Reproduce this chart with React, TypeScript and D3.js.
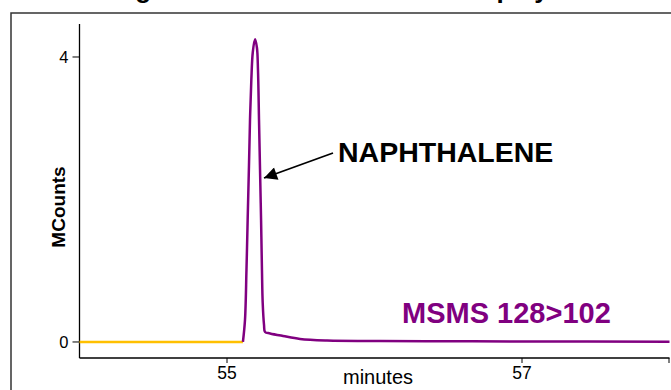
import React from "react";
import * as d3 from "d3";

const W = 671;
const H = 390;

// Pre-elution baseline (yellow)
const baselineTimes = [54.0, 55.108];
const baselineValues = [0, 0];

// MSMS 128>102 trace (purple), minutes vs MCounts
const traceTimes = [
  55.108, 55.122, 55.132, 55.14, 55.149, 55.156, 55.165, 55.175, 55.19,
  55.203, 55.21, 55.217, 55.224, 55.231, 55.237, 55.242, 55.251, 55.258,
  55.292, 55.38, 55.495, 55.678, 56.037, 56.512, 56.986, 58.0,
];
const traceValues = [
  0, 0.31, 1.01, 1.71, 2.48, 3.12, 3.68, 4.07, 4.25,
  4.13, 3.82, 3.12, 2.41, 1.71, 1.01, 0.55, 0.24, 0.14,
  0.12, 0.084, 0.042, 0.021, 0.014, 0.01, 0.007, 0.004,
];

const xTicks = [55, 57];
const yTicks = [0, 4];
const xDomain = [54, 58];
const yDomain = [-0.225, 4.463];

const titleText = "Organic Trace Scan Results Display";
const peakLabel = "NAPHTHALENE";
const traceLabel = "MSMS 128>102";
const xLabel = "minutes";
const yLabel = "MCounts";

const PURPLE = "#800080";
const YELLOW = "#FFC000";
const FONT = "'Liberation Sans', Arial, Helvetica, sans-serif";

export default function App() {
  const x = d3.scaleLinear().domain(xDomain).range([79.5, 669.5]);
  const y = d3.scaleLinear().domain(yDomain).range([358, 24]);

  const line = d3
    .line<[number, number]>()
    .x((d) => x(d[0]))
    .y((d) => y(d[1]))
    .curve(d3.curveCatmullRom.alpha(0.5));

  const trace = traceTimes.map((t, i) => [t, traceValues[i]] as [number, number]);
  const base = baselineTimes.map((t, i) => [t, baselineValues[i]] as [number, number]);

  const [x0, x1] = x.range();
  const [yb, yt] = y.range();

  return (
    <div style={{ position: "fixed", left: 0, top: 0, width: W, height: H, background: "#fff" }}>
      <svg width={W} height={H} style={{ display: "block", fontFamily: FONT }}>
        <rect x={0} y={0} width={W} height={H} fill="#fff" />
        <text x={105} y={-2} fontSize={26} fontWeight="bold" fill="#000">
          {titleText}
        </text>
        {/* outer frame */}
        <rect x={11} y={13} width={W + 40} height={H + 40} fill="none" stroke="#333" strokeWidth={1.5} />

        {/* axes */}
        <line x1={x0} x2={x0} y1={yt} y2={yb} stroke="#000" strokeWidth={1.3} />
        <line x1={x0} x2={x1} y1={yb} y2={yb} stroke="#000" strokeWidth={1.3} />
        {yTicks.map((t) => (
          <g key={"y" + t}>
            <line x1={x0 - 7} x2={x0} y1={y(t)} y2={y(t)} stroke="#000" strokeWidth={1} />
            <text x={x0 - 11} y={y(t)} dy="0.36em" textAnchor="end" fontSize={16.5} fill="#000">
              {t}
            </text>
          </g>
        ))}
        {xTicks.map((t) => (
          <g key={"x" + t}>
            <line x1={x(t)} x2={x(t)} y1={yb} y2={yb + 5} stroke="#000" strokeWidth={1} />
            <text x={x(t)} y={yb + 21} textAnchor="middle" fontSize={17.5} fill="#000">
              {t}
            </text>
          </g>
        ))}
        <line x1={x(xDomain[1]) - 0.5} x2={x(xDomain[1]) - 0.5} y1={yb} y2={yb + 5} stroke="#000" strokeWidth={1} />
        <text x={378} y={384} textAnchor="middle" fontSize={20} fill="#000">
          {xLabel}
        </text>
        <text
          transform={`translate(65,${207}) rotate(-90)`}
          textAnchor="middle"
          fontSize={19}
          fontWeight="bold"
          fill="#000"
        >
          {yLabel}
        </text>

        {/* traces */}
        <path d={line(base) || ""} fill="none" stroke={YELLOW} strokeWidth={2.5} />
        <path d={line(trace) || ""} fill="none" stroke={PURPLE} strokeWidth={2.5} strokeLinejoin="round" />

        {/* annotations */}
        <defs>
          <marker id="arrowhead" viewBox="0 0 10 10" refX={10} refY={5} markerWidth={17} markerHeight={13} markerUnits="userSpaceOnUse" orient="auto">
            <path d="M0,0 L10,5 L0,10 z" fill="#000" />
          </marker>
        </defs>
        <line x1={333} y1={153} x2={264} y2={178} stroke="#000" strokeWidth={1.8} markerEnd="url(#arrowhead)" />
        <text x={338} y={162} fontSize={28.5} fontWeight="bold" fill="#000">
          {peakLabel}
        </text>
        <text x={402} y={323} fontSize={29} fontWeight="bold" fill={PURPLE}>
          {traceLabel}
        </text>
      </svg>
    </div>
  );
}
